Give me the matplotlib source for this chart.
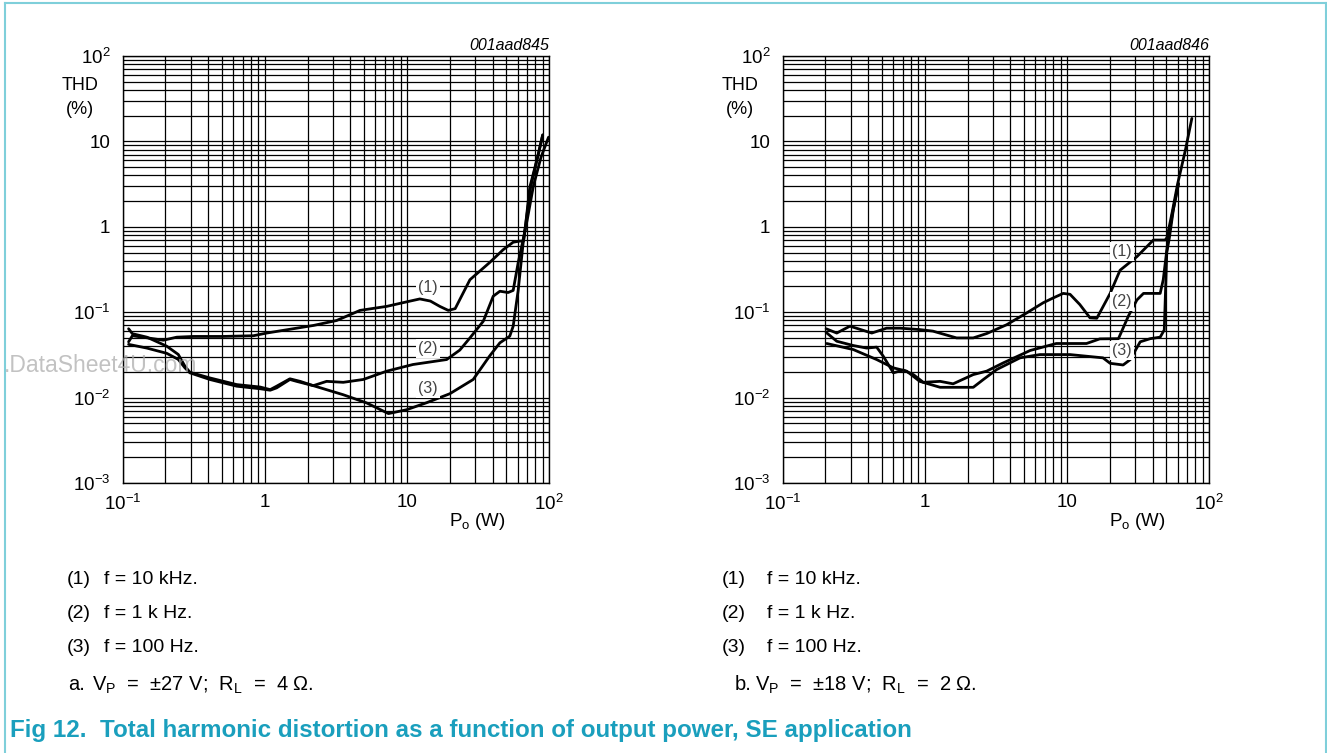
import matplotlib
matplotlib.use("Agg")
import matplotlib.pyplot as plt
from matplotlib.ticker import LogLocator, NullFormatter, FixedLocator, FixedFormatter
from matplotlib.lines import Line2D

plt.rcParams['font.family'] = ['Liberation Sans', 'DejaVu Sans']
plt.rcParams['mathtext.fontset'] = 'custom'
plt.rcParams['mathtext.rm'] = 'Liberation Sans'
plt.rcParams['mathtext.it'] = 'Liberation Sans:italic'
plt.rcParams['mathtext.bf'] = 'Liberation Sans:bold'

# ---------------- data (a): VP = ±27 V, RL = 4 Ω ----------------
a_p_10k = [0.11, 0.117, 0.15, 0.193, 0.24, 0.314, 0.5, 0.83, 1.03, 1.58, 2.2, 3.2, 4.67, 7.2, 9.9,
           12.3, 14.6, 17, 19.5, 21.8, 27.7, 38, 47.5, 55.8, 62, 66, 68, 73, 83, 90]
a_thd_10k = [0.045, 0.053, 0.05, 0.047, 0.051, 0.052, 0.052, 0.053, 0.057, 0.064, 0.07, 0.080, 0.105,
             0.117, 0.132, 0.143, 0.135, 0.117, 0.105, 0.11, 0.24, 0.38, 0.54, 0.66, 0.68, 0.68, 1.0,
             2.9, 6.6, 11.9]
a_p_1k = [0.11, 0.117, 0.148, 0.204, 0.246, 0.274, 0.297, 0.41, 0.634, 0.925, 1.09, 1.21, 1.5, 1.77,
          2.19, 2.72, 3.56, 4.92, 7.2, 11, 19, 23.5, 27.7, 34.4, 40.4, 45, 51.4, 55.8, 60.5, 65.6, 70,
          77.4, 87.5, 98.9]
a_thd_1k = [0.064, 0.056, 0.051, 0.040, 0.032, 0.0233, 0.0198, 0.0170, 0.0142, 0.0133, 0.0124, 0.0136,
            0.0166, 0.0155, 0.0138, 0.0155, 0.0151, 0.0163, 0.0204, 0.0244, 0.0279, 0.036, 0.05, 0.0785,
            0.154, 0.176, 0.17, 0.18, 0.38, 0.71, 1.2, 3.0, 6.5, 11.2]
a_p_100 = [0.11, 0.148, 0.204, 0.246, 0.274, 0.297, 0.41, 0.634, 0.925, 1.09, 1.21, 1.5, 1.67, 2.19,
           3.56, 5.2, 7.4, 9.9, 13.7, 20, 29.2, 38, 45, 52.8, 55.8, 60.5, 65.6, 68, 74, 83, 90]
a_thd_100 = [0.042, 0.038, 0.033, 0.028, 0.0223, 0.0195, 0.0163, 0.0136, 0.0127, 0.0122, 0.013, 0.0163,
             0.0155, 0.0138, 0.0108, 0.00866, 0.0065, 0.0072, 0.0087, 0.0111, 0.0163, 0.0305, 0.0438,
             0.0524, 0.0686, 0.18, 0.65, 1.0, 2.9, 6.6, 11.9]

# ---------------- data (b): VP = ±18 V, RL = 2 Ω ----------------
b_p_10k = [0.202, 0.24, 0.297, 0.423, 0.538, 0.67, 0.92, 1.14, 1.67, 2.19, 2.72, 3.76, 5.2, 6.8, 8,
           9.4, 10.5, 12.3, 14.5, 16.2, 20.1, 23.6, 31, 40.5, 49, 50.5, 55, 60, 68, 75.5]
b_thd_10k = [0.064, 0.057, 0.0686, 0.057, 0.065, 0.065, 0.0626, 0.06, 0.05, 0.05, 0.0562, 0.0713,
             0.098, 0.129, 0.147, 0.166, 0.162, 0.123, 0.086, 0.085, 0.166, 0.31, 0.447, 0.70, 0.70,
             0.75, 1.5, 3.2, 7.9, 18.6]
b_p_1k = [0.202, 0.24, 0.314, 0.39, 0.458, 0.51, 0.6, 0.705, 0.83, 0.975, 1.28, 1.58, 2.19, 2.72, 3.56,
          5.5, 8.4, 13.7, 17, 23, 27, 31, 34.5, 45.2, 47.5, 51.4, 55, 60.8]
b_thd_1k = [0.058, 0.0457, 0.0407, 0.038, 0.039, 0.0305, 0.0195, 0.021, 0.0186, 0.0151, 0.0155, 0.0145,
            0.0186, 0.0204, 0.0255, 0.0356, 0.043, 0.043, 0.0487, 0.049, 0.09, 0.139, 0.166, 0.166,
            0.24, 0.71, 1.4, 3.2]
b_p_100 = [0.204, 0.314, 0.458, 0.6, 0.745, 0.92, 1.28, 2.19, 2.58, 3.2, 4.67, 6.45, 10.5, 17.9, 20.1,
           24.8, 27.8, 32.7, 38.5, 45.2, 48.3, 50.3, 52.5, 56, 60.8]
b_thd_100 = [0.043, 0.0365, 0.0279, 0.0223, 0.0204, 0.0155, 0.0132, 0.0132, 0.0163, 0.0213, 0.0292,
             0.0319, 0.0319, 0.0292, 0.0252, 0.0241, 0.0278, 0.045, 0.049, 0.051, 0.062, 0.5, 0.75,
             1.6, 3.2]

x_ticks = [0.1, 1, 10, 100]
x_ticklabels = ['$10^{-1}$', '1', '10', '$10^{2}$']
y_ticks = [1e-3, 1e-2, 1e-1, 1, 10, 100]
y_ticklabels = ['$10^{-3}$', '$10^{-2}$', '$10^{-1}$', '1', '10', '$10^{2}$']
curve_labels = ['(1)', '(2)', '(3)']
legend_lines = ['f = 10 kHz.', 'f = 1 k Hz.', 'f = 100 Hz.']

W, H = 1327, 753
fig = plt.figure(figsize=(W / 100, H / 100), dpi=100)
fig.patch.set_facecolor('white')


def fx(x):
    return x / W


def fy(y):
    return 1 - y / H


def make_axes(left_px, code, curves, label_pos):
    top, bottom, width = 56, 483, 426.5
    ax = fig.add_axes([fx(left_px), fy(bottom), width / W, (bottom - top) / H])
    ax.set_xscale('log')
    ax.set_yscale('log')
    ax.set_xlim(0.1, 100)
    ax.set_ylim(1e-3, 100)
    ax.xaxis.set_major_locator(FixedLocator(x_ticks))
    ax.xaxis.set_major_formatter(FixedFormatter(x_ticklabels))
    ax.yaxis.set_major_locator(FixedLocator(y_ticks))
    ax.yaxis.set_major_formatter(FixedFormatter(y_ticklabels))
    ax.xaxis.set_minor_locator(LogLocator(base=10, subs=range(2, 10), numticks=20))
    ax.yaxis.set_minor_locator(LogLocator(base=10, subs=range(2, 10), numticks=20))
    ax.xaxis.set_minor_formatter(NullFormatter())
    ax.yaxis.set_minor_formatter(NullFormatter())
    ax.tick_params(which='both', length=0, labelsize=13.5, colors='black')
    ax.tick_params(axis='y', pad=9)
    ax.tick_params(axis='x', pad=8)
    ax.grid(which='both', color='black', lw=0.9)
    ax.set_axisbelow(True)
    for s in ax.spines.values():
        s.set_color('black')
        s.set_linewidth(1.0)
    for (px, py) in curves:
        ax.plot(px, py, color='black', lw=2.0, solid_capstyle='round', solid_joinstyle='round', zorder=3)
    for lab, (lx, ly) in zip(curve_labels, label_pos):
        ax.text(lx, ly, lab, fontsize=11.5, color='#444444', ha='center', va='center', zorder=4,
                bbox=dict(facecolor='white', edgecolor='none', pad=1.5))
    right_px = left_px + width
    fig.text(fx(right_px), fy(45), code, fontsize=11.5, style='italic', ha='right', va='center')
    fig.text(fx(left_px - 43), fy(86), 'THD', fontsize=13, ha='center', va='center')
    fig.text(fx(left_px - 43), fy(109), '(%)', fontsize=13, ha='center', va='center')
    fig.text(fx(left_px + 355), fy(522), 'P$_\\mathrm{o}$ (W)', fontsize=13.5, ha='center', va='center')
    return ax


make_axes(122.7, '001aad845',
          [(a_p_10k, a_thd_10k), (a_p_1k, a_thd_1k), (a_p_100, a_thd_100)],
          [(14.1, 0.197), (14.1, 0.038), (14.1, 0.0129)])
make_axes(782.7, '001aad846',
          [(b_p_10k, b_thd_10k), (b_p_1k, b_thd_1k), (b_p_100, b_thd_100)],
          [(24.3, 0.51), (24.3, 0.133), (24.3, 0.0354)])

# legend notes
rows_y = [580, 614, 648]
for x0, x1 in [(67, 104), (722, 767)]:
    for lab, txt, yy in zip(curve_labels, legend_lines, rows_y):
        fig.text(fx(x0), fy(yy), lab, fontsize=14, ha='left', va='center')
        fig.text(fx(x1), fy(yy), txt, fontsize=14, ha='left', va='center')

fig.text(fx(68), fy(685), 'a.', fontsize=14.5, ha='left', va='center')
fig.text(fx(92), fy(685), 'V$_\\mathrm{P}$  =  \u00b127 V;  R$_\\mathrm{L}$  =  4 \u03a9.', fontsize=14.5,
         ha='left', va='center')
fig.text(fx(735), fy(685), 'b.', fontsize=14.5, ha='left', va='center')
fig.text(fx(755), fy(685), 'V$_\\mathrm{P}$  =  \u00b118 V;  R$_\\mathrm{L}$  =  2 \u03a9.', fontsize=14.5,
         ha='left', va='center')

fig.text(fx(10), fy(730), 'Fig 12.  Total harmonic distortion as a function of output power, SE application',
         fontsize=17.4, fontweight='bold', color='#1a9fbd', ha='left', va='center')

# watermark (clipped at the page edge in the source)
fig.text(fx(197), fy(366), '.DataSheet4U.com', fontsize=16.5, color='#a8a8a8', alpha=0.7,
         ha='right', va='center')

# frame lines
border = '#7fcfda'
fig.add_artist(Line2D([fx(5), fx(5)], [fy(3), fy(753)], color=border, lw=1.5))
fig.add_artist(Line2D([fx(5), fx(1325.5)], [fy(3), fy(3)], color=border, lw=1.5))
fig.add_artist(Line2D([fx(1325.5), fx(1325.5)], [fy(3), fy(753)], color=border, lw=1.5))

fig.savefig('out.png', dpi=100, facecolor='white')
